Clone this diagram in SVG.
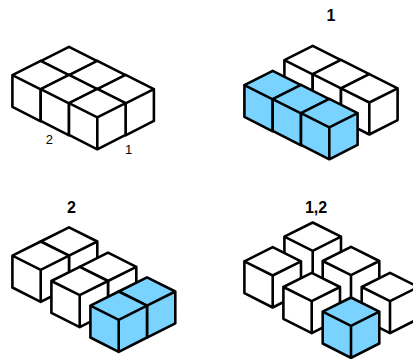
<svg xmlns="http://www.w3.org/2000/svg" width="413" height="359" viewBox="0 0 413 359">
<style>
.w{fill:#fff}
.b{fill:#7ad2ff}
.cube{stroke:#000;stroke-width:2.6;stroke-linejoin:round;stroke-linecap:round}
.t{font-family:"Liberation Sans",Arial,sans-serif;fill:#000;text-anchor:middle;opacity:.99}
.h{font-size:16px;font-weight:bold}
.n{font-size:13px}
</style>
<defs>
<g id="c" class="cube">
<path d="M0 0L28.3-14.2L0-28.4L-28.3-14.2ZM-28.3-14.2V17.6L0 32L28.3 17.6V-14.2M0 0V32"/>
</g>
</defs>
<rect width="413" height="359" fill="#fff"/>
<g id="panel-0">
<use href="#c" class="w" x="69" y="75.3"/>
<use href="#c" class="w" x="97.3" y="89.3"/>
<use href="#c" class="w" x="125.6" y="103.3"/>
<use href="#c" class="w" x="40.7" y="89.3"/>
<use href="#c" class="w" x="69" y="103.3"/>
<use href="#c" class="w" x="97.3" y="117.3"/>
<text class="t n" x="49.3" y="144">2</text>
<text class="t n" x="128.5" y="153.5">1</text>
</g>
<g id="panel-1">
<text class="t h" x="331" y="21">1</text>
<use href="#c" class="w" x="312.7" y="74.3"/>
<use href="#c" class="w" x="341" y="88.3"/>
<use href="#c" class="w" x="369.3" y="102.5"/>
<use href="#c" class="b" x="272.7" y="99.3"/>
<use href="#c" class="b" x="301" y="113.3"/>
<use href="#c" class="b" x="329.3" y="127.3"/>
</g>
<g id="panel-2">
<text class="t h" x="71.5" y="213">2</text>
<use href="#c" class="w" x="69" y="255.7"/>
<use href="#c" class="w" x="40.7" y="269.9"/>
<use href="#c" class="w" x="108" y="281"/>
<use href="#c" class="w" x="79.7" y="295.2"/>
<use href="#c" class="b" x="147" y="305.7"/>
<use href="#c" class="b" x="118.7" y="319.9"/>
</g>
<g id="panel-3">
<text class="t h" x="316" y="213">1,2</text>
<use href="#c" class="w" x="312.7" y="250.9"/>
<use href="#c" class="w" x="272.7" y="275.5"/>
<use href="#c" class="w" x="351" y="275.2"/>
<use href="#c" class="w" x="311.7" y="301.2"/>
<use href="#c" class="w" x="390" y="301.2"/>
<use href="#c" class="b" x="351" y="325.9"/>
</g>
</svg>
